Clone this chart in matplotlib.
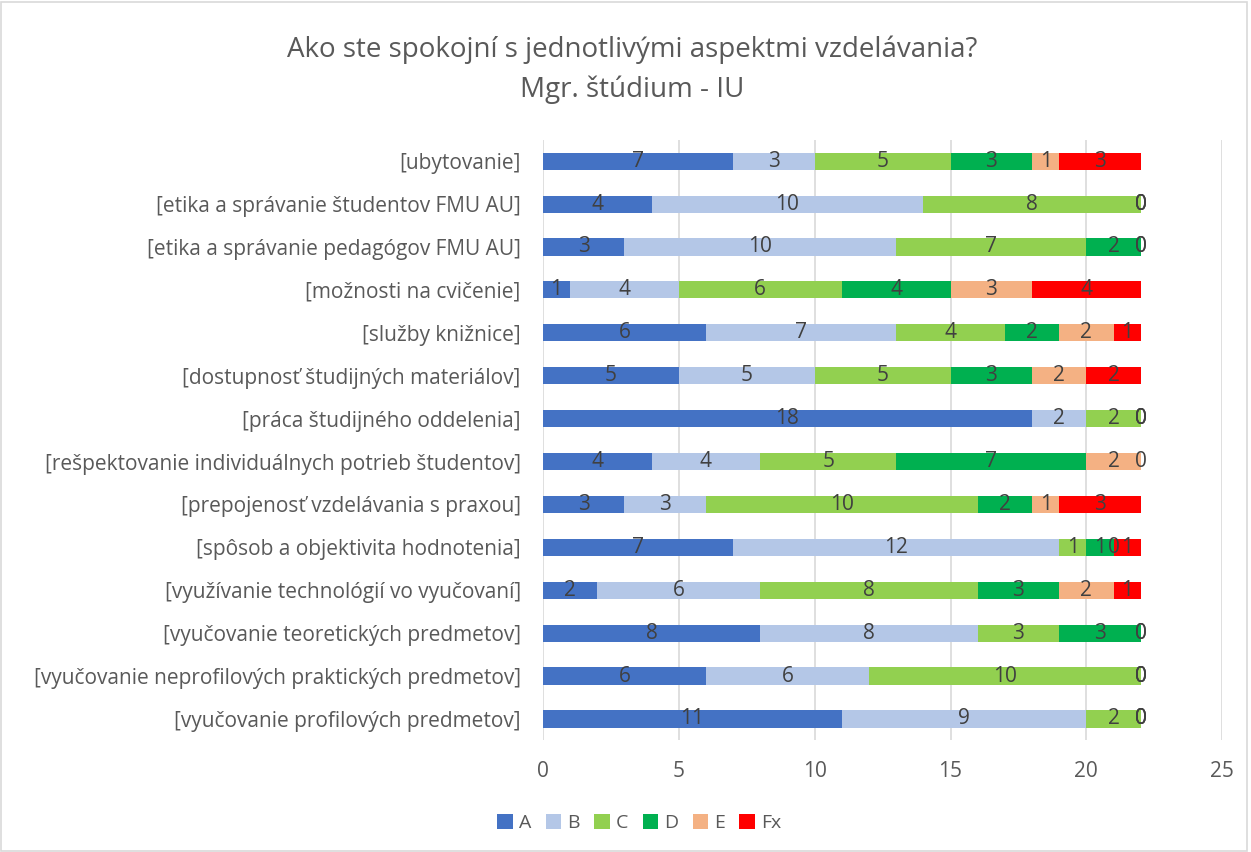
import matplotlib.pyplot as plt
import numpy as np
from matplotlib.patches import Rectangle

plt.rcParams['font.family'] = ['Open Sans', 'DejaVu Sans']

categories = [
    "[ubytovanie]",
    "[etika a správanie študentov FMU AU]",
    "[etika a správanie pedagógov FMU AU]",
    "[možnosti na cvičenie]",
    "[služby knižnice]",
    "[dostupnosť študijných materiálov]",
    "[práca študijného oddelenia]",
    "[rešpektovanie individuálnych potrieb študentov]",
    "[prepojenosť vzdelávania s praxou]",
    "[spôsob a objektivita hodnotenia]",
    "[využívanie technológií vo vyučovaní]",
    "[vyučovanie teoretických predmetov]",
    "[vyučovanie neprofilových praktických predmetov]",
    "[vyučovanie profilových predmetov]",
]

series_names = ["A", "B", "C", "D", "E", "Fx"]
A = [7, 4, 3, 1, 6, 5, 18, 4, 3, 7, 2, 8, 6, 11]
B = [3, 10, 10, 4, 7, 5, 2, 4, 3, 12, 6, 8, 6, 9]
C = [5, 8, 7, 6, 4, 5, 2, 5, 10, 1, 8, 3, 10, 2]
D = [3, 0, 2, 4, 2, 3, 0, 7, 2, 1, 3, 3, 0, 0]
E = [1, 0, 0, 3, 2, 2, 0, 2, 1, 0, 2, 0, 0, 0]
Fx = [3, 0, 0, 4, 1, 2, 0, 0, 3, 1, 1, 0, 0, 0]
colors = ["#4472C4", "#B4C7E7", "#92D050", "#00B050", "#F4B183", "#FF0000"]

fig = plt.figure(figsize=(12.51, 8.52), dpi=100)
ax = fig.add_axes([0.434, 0.131, 0.543, 0.705])

y = np.arange(len(categories))[::-1]
left = np.zeros(len(categories))
for name, vals, col in zip(series_names, [A, B, C, D, E, Fx], colors):
    vals = np.array(vals, dtype=float)
    ax.barh(y, vals, left=left, height=0.4, color=col, label=name, zorder=2)
    for yi, l, v in zip(y, left, vals):
        ax.text(l + v / 2, yi, f"{int(v)}", ha="center", va="center",
                fontsize=15, color="#404040", zorder=3)
    left += vals

ax.set_xlim(0, 25)
ax.set_ylim(-0.5, len(categories) - 0.5)
ax.set_xticks(range(0, 26, 5))
ax.set_yticks(y)
ax.set_yticklabels(categories)
ax.tick_params(axis="both", length=0, labelsize=15, colors="#595959")
ax.tick_params(axis="x", pad=15)
ax.tick_params(axis="y", pad=16)
ax.grid(axis="x", color="#D9D9D9", linewidth=1.2, zorder=0)
for s in ax.spines.values():
    s.set_visible(False)

fig.text(0.505, 0.942, "Ako ste spokojní s jednotlivými aspektmi vzdelávania?",
         ha="center", va="center", fontsize=20, color="#595959")
fig.text(0.505, 0.895, "Mgr. štúdium - IU", ha="center", va="center",
         fontsize=20, color="#595959")

fig.legend(loc="center", bbox_to_anchor=(0.511, 0.034), ncol=6, frameon=False,
           fontsize=14, labelcolor="#595959", handlelength=0.8, handleheight=0.8,
           handletextpad=0.3, columnspacing=0.75)

fig.patches.append(Rectangle((0.001, 0.001), 0.996, 0.997, transform=fig.transFigure,
                             fill=False, edgecolor="#D9D9D9", linewidth=1.2))

fig.savefig("out.png", dpi=100)
